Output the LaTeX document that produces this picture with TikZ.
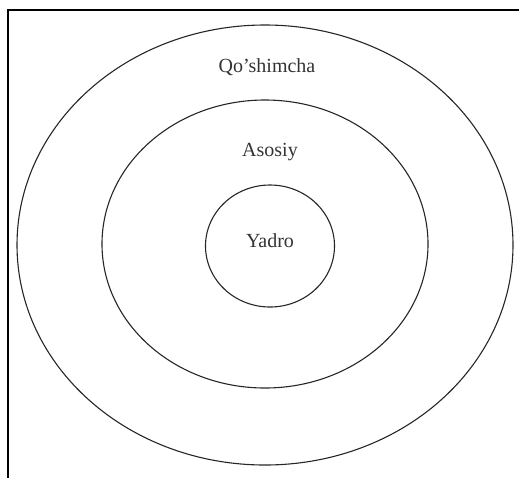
\documentclass[tikz,border=0pt]{standalone}
\usepackage{fontspec}
\setmainfont{Liberation Serif}
\usetikzlibrary{shapes.geometric}

\begin{document}
\begin{tikzpicture}[x=0.5pt,y=-0.5pt,
    ring/.style={ellipse,draw=black!85,line width=0.55pt,inner sep=0pt},
    lab/.style={anchor=base,font=\fontsize{10}{12}\selectfont,text=black!80},
    borderline/.style={line width=0.9pt}
  ]
  \useasboundingbox (0,0) rectangle (519,478);
  % open frame: top and left only
  \coordinate (tl) at (8,10);
  \coordinate (tr) at (519,10);
  \coordinate (bl) at (8,478);
  \draw[borderline] (tr)--(tl)--(bl);
  % rings
  \node[ring,minimum width=248pt,minimum height=220pt] (outer) at (265,245) {};
  \node[ring,minimum width=163pt,minimum height=144pt] (middle) at (265,244) {};
  \node[ring,minimum width=64.5pt,minimum height=61pt] (core) at (270,246) {};
  % labels
  \node[lab] (qoshimcha) at (267,72) {Qo’shimcha};
  \node[lab] (asosiy) at (270,156) {Asosiy};
  \node[lab] (yadro) at (270,247) {Yadro};
\end{tikzpicture}
\end{document}
